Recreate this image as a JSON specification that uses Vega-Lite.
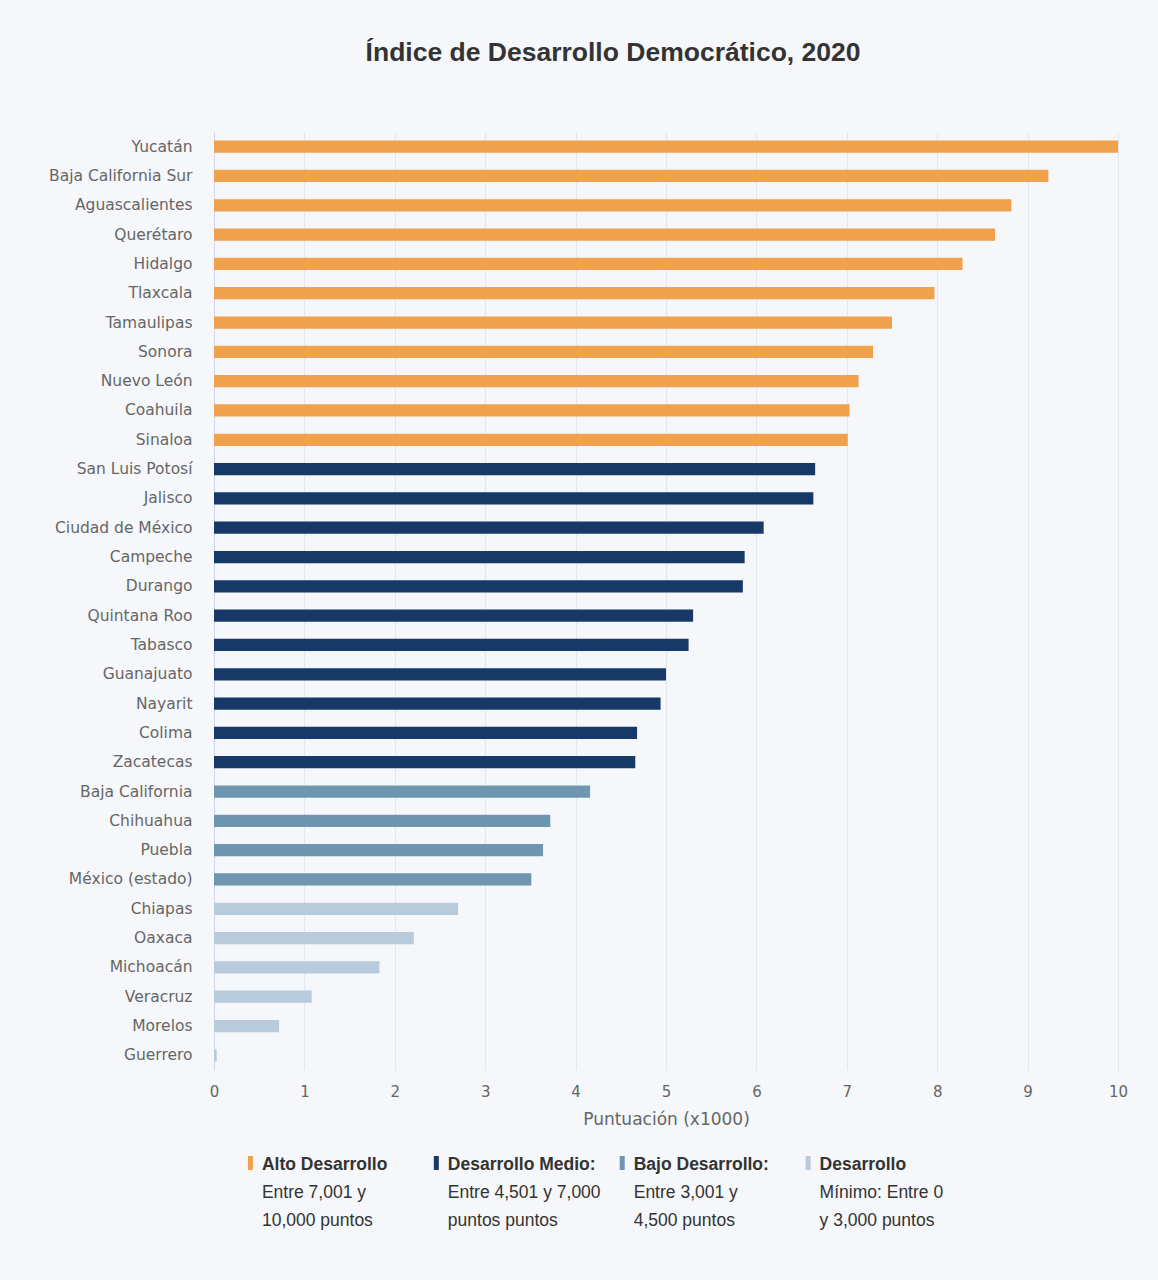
{
  "$schema": "https://vega.github.io/schema/vega-lite/v6.json",
  "background": "#f5f7fa",
  "padding": {"left": 48, "top": 39, "right": 30, "bottom": 52},
  "title": {
    "text": "Índice de Desarrollo Democrático, 2020",
    "font": "Liberation Sans",
    "fontSize": 26.5,
    "fontWeight": "bold",
    "color": "#333333",
    "anchor": "middle",
    "dx": 25,
    "offset": 66
  },
  "config": {
    "view": {"stroke": null},
    "axis": {"labelFont": "DejaVu Sans", "titleFont": "DejaVu Sans"}
  },
  "spacing": 26,
  "vconcat": [
    {
      "width": 904,
      "height": 938,
      "data": {
        "values": [
          {"estado": "Yucatán", "valor": 10.0, "nivel": "Alto Desarrollo"},
          {"estado": "Baja California Sur", "valor": 9.23, "nivel": "Alto Desarrollo"},
          {"estado": "Aguascalientes", "valor": 8.82, "nivel": "Alto Desarrollo"},
          {"estado": "Querétaro", "valor": 8.64, "nivel": "Alto Desarrollo"},
          {"estado": "Hidalgo", "valor": 8.28, "nivel": "Alto Desarrollo"},
          {"estado": "Tlaxcala", "valor": 7.97, "nivel": "Alto Desarrollo"},
          {"estado": "Tamaulipas", "valor": 7.50, "nivel": "Alto Desarrollo"},
          {"estado": "Sonora", "valor": 7.29, "nivel": "Alto Desarrollo"},
          {"estado": "Nuevo León", "valor": 7.13, "nivel": "Alto Desarrollo"},
          {"estado": "Coahuila", "valor": 7.03, "nivel": "Alto Desarrollo"},
          {"estado": "Sinaloa", "valor": 7.01, "nivel": "Alto Desarrollo"},
          {"estado": "San Luis Potosí", "valor": 6.65, "nivel": "Desarrollo Medio"},
          {"estado": "Jalisco", "valor": 6.63, "nivel": "Desarrollo Medio"},
          {"estado": "Ciudad de México", "valor": 6.08, "nivel": "Desarrollo Medio"},
          {"estado": "Campeche", "valor": 5.87, "nivel": "Desarrollo Medio"},
          {"estado": "Durango", "valor": 5.85, "nivel": "Desarrollo Medio"},
          {"estado": "Quintana Roo", "valor": 5.30, "nivel": "Desarrollo Medio"},
          {"estado": "Tabasco", "valor": 5.25, "nivel": "Desarrollo Medio"},
          {"estado": "Guanajuato", "valor": 5.00, "nivel": "Desarrollo Medio"},
          {"estado": "Nayarit", "valor": 4.94, "nivel": "Desarrollo Medio"},
          {"estado": "Colima", "valor": 4.68, "nivel": "Desarrollo Medio"},
          {"estado": "Zacatecas", "valor": 4.66, "nivel": "Desarrollo Medio"},
          {"estado": "Baja California", "valor": 4.16, "nivel": "Bajo Desarrollo"},
          {"estado": "Chihuahua", "valor": 3.72, "nivel": "Bajo Desarrollo"},
          {"estado": "Puebla", "valor": 3.64, "nivel": "Bajo Desarrollo"},
          {"estado": "México (estado)", "valor": 3.51, "nivel": "Bajo Desarrollo"},
          {"estado": "Chiapas", "valor": 2.70, "nivel": "Desarrollo Mínimo"},
          {"estado": "Oaxaca", "valor": 2.21, "nivel": "Desarrollo Mínimo"},
          {"estado": "Michoacán", "valor": 1.83, "nivel": "Desarrollo Mínimo"},
          {"estado": "Veracruz", "valor": 1.08, "nivel": "Desarrollo Mínimo"},
          {"estado": "Morelos", "valor": 0.72, "nivel": "Desarrollo Mínimo"},
          {"estado": "Guerrero", "valor": 0.03, "nivel": "Desarrollo Mínimo"}
        ]
      },
      "mark": {"type": "bar"},
      "encoding": {
        "y": {
          "field": "estado",
          "type": "nominal",
          "sort": null,
          "scale": {"paddingInner": 0.58, "paddingOuter": 0.29},
          "axis": {
            "title": null,
            "labelFontSize": 15.5,
            "labelColor": "#666666",
            "labelPadding": 22,
            "labelLimit": 300,
            "ticks": false,
            "tickSize": 0,
            "grid": false,
            "domainColor": "#ccd6eb",
            "domainWidth": 1
          }
        },
        "x": {
          "field": "valor",
          "type": "quantitative",
          "scale": {"domain": [0, 10], "nice": false},
          "axis": {
            "title": "Puntuación (x1000)",
            "titleFontSize": 17,
            "titleFontWeight": "normal",
            "titleColor": "#666666",
            "titlePadding": 12,
            "values": [0, 1, 2, 3, 4, 5, 6, 7, 8, 9, 10],
            "format": "d",
            "labelFontSize": 15,
            "labelColor": "#666666",
            "labelPadding": 14,
            "labelFlush": false,
            "ticks": false,
            "tickSize": 0,
            "domain": false,
            "grid": true,
            "gridColor": "#e3e6ea",
            "gridWidth": 1
          }
        },
        "color": {
          "field": "nivel",
          "type": "nominal",
          "scale": {
            "domain": ["Alto Desarrollo", "Desarrollo Medio", "Bajo Desarrollo", "Desarrollo Mínimo"],
            "range": ["#efa14b", "#163968", "#6e96af", "#b8cbdd"]
          },
          "legend": null
        }
      }
    },
    {
      "width": 780,
      "height": 14,
      "data": {
        "values": [
          {"nivel": "Alto Desarrollo", "titulo": "Alto Desarrollo", "texto": "Entre 7,001 y\n10,000 puntos"},
          {"nivel": "Desarrollo Medio", "titulo": "Desarrollo Medio:", "texto": "Entre 4,501 y 7,000\npuntos puntos"},
          {"nivel": "Bajo Desarrollo", "titulo": "Bajo Desarrollo:", "texto": "Entre 3,001 y\n4,500 puntos"},
          {"nivel": "Desarrollo Mínimo", "titulo": "Desarrollo", "texto": "Mínimo: Entre 0\ny 3,000 puntos"}
        ]
      },
      "encoding": {
        "x": {
          "field": "nivel",
          "type": "nominal",
          "sort": null,
          "bandPosition": 0,
          "scale": {"paddingInner": 0, "paddingOuter": 0.098, "align": 1},
          "axis": null
        }
      },
      "layer": [
        {
          "mark": {"type": "rule", "strokeWidth": 5, "strokeCap": "butt"},
          "encoding": {
            "color": {
              "field": "nivel",
              "type": "nominal",
              "scale": {
                "domain": ["Alto Desarrollo", "Desarrollo Medio", "Bajo Desarrollo", "Desarrollo Mínimo"],
                "range": ["#efa14b", "#163968", "#6e96af", "#b8cbdd"]
              },
              "legend": null
            }
          }
        },
        {
          "mark": {
            "type": "text",
            "align": "left",
            "baseline": "top",
            "dx": 11.5,
            "dy": -7,
            "font": "Liberation Sans",
            "fontSize": 17.5,
            "fontWeight": "bold",
            "color": "#333333"
          },
          "encoding": {"text": {"field": "titulo"}}
        },
        {
          "mark": {
            "type": "text",
            "align": "left",
            "baseline": "top",
            "dx": 11.5,
            "dy": 21,
            "font": "Liberation Sans",
            "fontSize": 17.5,
            "lineHeight": 28,
            "lineBreak": "\n",
            "color": "#333333"
          },
          "encoding": {"text": {"field": "texto"}}
        }
      ]
    }
  ]
}
